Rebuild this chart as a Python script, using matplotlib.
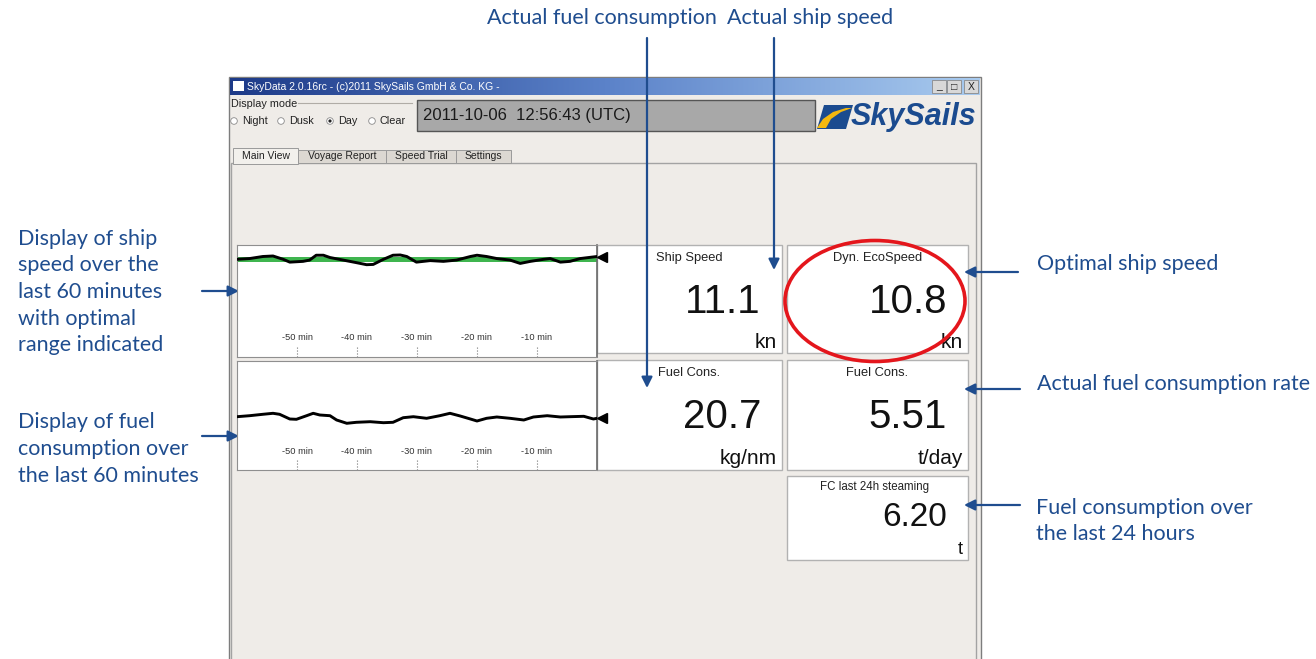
import numpy as np
import matplotlib.pyplot as plt
from matplotlib.patches import Rectangle, Ellipse, Polygon, Circle
from matplotlib.colors import LinearSegmentedColormap

W, H = 1316, 659

# ship speed over the last 60 minutes (kn)
speed_min = [-60, -57.9, -55.7, -54, -52.3, -51.2, -49, -47.9, -46.8, -45.6, -44.5,
             -42.3, -40.1, -38.4, -37.3, -35.6, -34, -32.8, -31.7, -30.1, -27.8,
             -25.6, -23.4, -21.1, -20, -18.4, -16.7, -14.5, -12.8, -11.1, -8.9,
             -7.8, -6.1, -4.5, -2.8, 0]
speed_kn = [11.02, 11.05, 11.13, 11.15, 11.02, 10.91, 10.94, 10.99, 11.18, 11.18, 11.09,
            10.99, 10.89, 10.81, 10.82, 11.02, 11.18, 11.19, 11.13, 10.91, 10.97,
            10.94, 10.99, 11.13, 11.18, 11.13, 11.05, 10.99, 10.86, 10.94, 11.02,
            11.05, 10.91, 10.94, 11.05, 11.13]
opt_low, opt_high = 10.9, 11.1

# fuel consumption over the last 60 minutes (kg/nm)
fuel_min = [-60, -57.9, -55.7, -54, -52.9, -51.2, -50.1, -48.4, -47.3, -46.2, -44.5,
            -43.4, -41.7, -40.1, -37.8, -35.6, -34, -32.3, -30.6, -28.4, -26.2,
            -24.5, -22.8, -21.1, -20, -18.4, -16.7, -14.5, -12.2, -10.6, -8.3,
            -6.1, -4.5, -2.2, -0.6, 0]
fuel_kgnm = [20.73, 20.83, 20.97, 21.07, 20.97, 20.50, 20.47, 20.83, 21.07, 20.90, 20.83,
             20.40, 20.07, 20.17, 20.23, 20.13, 20.17, 20.63, 20.73, 20.57, 20.83,
             21.07, 20.80, 20.50, 20.30, 20.57, 20.70, 20.57, 20.40, 20.70, 20.83,
             20.70, 20.73, 20.77, 20.50, 20.57]

tick_min = [-50, -40, -30, -20, -10]
tick_lbl = ["-50 min", "-40 min", "-30 min", "-20 min", "-10 min"]

box_titles = ["Ship Speed", "Dyn. EcoSpeed", "Fuel Cons.", "Fuel Cons.", "FC last 24h steaming"]
box_values = ["11.1", "10.8", "20.7", "5.51", "6.20"]
box_units = ["kn", "kn", "kg/nm", "t/day", "t"]

modes = ["Night", "Dusk", "Day", "Clear"]
mode_sel = "Day"
tabs = ["Main View", "Voyage Report", "Speed Trial", "Settings"]
stamp = "2011-10-06  12:56:43 (UTC)"
title = "SkyData 2.0.16rc - (c)2011 SkySails GmbH & Co. KG -"

BLUE = "#1f4d8f"
UI = ["Liberation Sans", "DejaVu Sans"]
ANN = ["Lato", "DejaVu Sans"]

fig = plt.figure(figsize=(W / 100, H / 100), dpi=100)
ax = fig.add_axes([0, 0, 1, 1])
ax.axis("off")

# window
ax.add_patch(Rectangle((229, 77), 752, 600, fc="#efece8", ec="#7d7d7d", lw=1))
grad = LinearSegmentedColormap.from_list("tb", ["#1d3a88", "#5b82c9", "#a9cbef"])
ax.imshow(np.linspace(0, 1, 256).reshape(1, -1), cmap=grad, aspect="auto",
          extent=(230, 980, 95, 78), zorder=1)
ax.add_patch(Rectangle((233, 81), 11, 10, fc="white", ec="none", zorder=2))
ax.text(247, 86.5, title, color="white", fontsize=7.5, family=UI, va="center", zorder=2)
for bx, s in zip([932, 947, 964], ["_", "□", "X"]):
    ax.add_patch(Rectangle((bx, 80), 14, 13, fc="#d8d8d8", ec="#8a8a8a", lw=0.6, zorder=2))
    ax.text(bx + 7, 86.5, s, fontsize=7.5, ha="center", va="center", family=UI,
            color="#222", zorder=3)

# display mode
ax.text(231, 104, "Display mode", fontsize=7.8, family=UI, va="center", color="#222")
ax.plot([298, 412], [103, 103], color="#b0aca6", lw=0.8)
rx = [234, 281, 330, 372]
for x, m in zip(rx, modes):
    ax.add_patch(Circle((x, 121), 3.3, fc="white", ec="#8a8a8a", lw=0.6))
    if m == mode_sel:
        ax.add_patch(Circle((x, 121), 1.6, fc="#222", ec="none"))
    ax.text(x + 8, 121, m, fontsize=7.8, family=UI, va="center", color="#222")

ax.add_patch(Rectangle((417, 100), 398, 31, fc="#a8a8a8", ec="#555", lw=1))
ax.text(423, 115.5, stamp, fontsize=12, family=UI, va="center", color="#1a1a1a")

# logo
ax.add_patch(Polygon([(824, 105), (853, 105), (846, 129), (817, 129)], fc="#1b4b8f", ec="none"))
ax.add_patch(Polygon([(817, 128), (823, 119), (833, 112), (846, 108), (852, 108),
                      (841, 112), (831, 119), (826, 128)], fc="#f4b80f", ec="none"))
ax.text(851, 117, "SkySails", fontsize=22, fontweight="bold", style="italic",
        family=UI, color="#1b4b8f", va="center")

# tab panel
ax.add_patch(Rectangle((231, 163), 745, 510, fc="#efece8", ec="#a3a3a3", lw=1))
tab_x = [233, 298, 386, 456, 511]
for i, t in enumerate(tabs):
    top = 148 if i == 0 else 150
    fc = "#f2f0ec" if i == 0 else "#dcd8d2"
    ax.add_patch(Rectangle((tab_x[i], top), tab_x[i + 1] - tab_x[i], 163 - top + (1 if i == 0 else 0),
                           fc=fc, ec="#9a9a9a", lw=0.7, zorder=2))
    ax.text((tab_x[i] + tab_x[i + 1]) / 2, 156, t, fontsize=7.5, family=UI, ha="center",
            va="center", color="#222", zorder=3)

# value boxes
boxes = [(597, 245, 782, 353), (787, 245, 968, 353), (597, 360, 782, 470),
         (787, 360, 968, 470), (787, 476, 968, 560)]
for i, (x0, y0, x1, y1) in enumerate(boxes):
    ax.add_patch(Rectangle((x0, y0), x1 - x0, y1 - y0, fc="white", ec="#b2b2b2", lw=1, zorder=2))
    small = i == 4
    ax.text((x0 + x1) / 2 - (3 if small else 0), y0 + (11 if small else 13), box_titles[i],
            fontsize=8.3 if small else 9.3, family=UI, ha="center", va="center",
            color="#222", zorder=3)
    ax.text(x1 - 21, y0 + (42 if small else 57), box_values[i], fontsize=24 if small else 29,
            family=UI, ha="right", va="center", color="#111", zorder=3)
    ax.text(x1 - 5, y1 - 11, box_units[i], fontsize=13 if small else 15, family=UI,
            ha="right", va="center", color="#111", zorder=3)


def px_axes(x0, y0, x1, y1):
    return fig.add_axes([x0 / W, 1 - y1 / H, (x1 - x0) / W, (y1 - y0) / H])


def trend(a, xs, ys, lim):
    a.set_xlim(-60, 0)
    a.set_ylim(*lim)
    a.plot(xs, ys, color="black", lw=2.1, solid_joinstyle="round", zorder=3)
    a.plot(0.9, ys[-1], marker="<", color="black", ms=7, clip_on=False, zorder=4)
    a.vlines(tick_min, 0, 0.1, transform=a.get_xaxis_transform(), color="#777",
             lw=0.8, linestyles=":")
    for m, lbl in zip(tick_min, tick_lbl):
        a.text(m, 0.17, lbl, transform=a.get_xaxis_transform(), fontsize=6.7,
               family=UI, ha="center", va="center", color="#333")
    a.set_xticks([])
    a.set_yticks([])
    for s in a.spines.values():
        s.set_color("#8f8f8f")
        s.set_linewidth(0.8)
    a.spines["right"].set_color("#6a6a6a")
    a.spines["right"].set_linewidth(1.2)


ax1 = px_axes(237, 245, 597, 357)
ax1.axhspan(opt_low, opt_high, color="#3fb54f", lw=0, zorder=1)
trend(ax1, speed_min, speed_kn, (7.2, 11.58))
ax2 = px_axes(237, 361, 597, 470)
trend(ax2, fuel_min, fuel_kgnm, (15.4, 26.3))

# highlight
ax.add_patch(Ellipse((875, 301), 180, 121, fill=False, ec="#e4161c", lw=2.6, zorder=5))

# callouts
arw = dict(arrowstyle="-|>", color=BLUE, lw=1.6, mutation_scale=16, shrinkA=0, shrinkB=0)
ax.text(487, 18, "Actual fuel consumption", fontsize=15.5, family=ANN, color=BLUE, va="center")
ax.text(727, 18, "Actual ship speed", fontsize=15.5, family=ANN, color=BLUE, va="center")
ax.annotate("", xy=(647, 388), xytext=(647, 38), arrowprops=arw, zorder=6)
ax.annotate("", xy=(774, 270), xytext=(774, 38), arrowprops=arw, zorder=6)

ax.text(18, 292, "Display of ship\nspeed over the\nlast 60 minutes\nwith optimal\nrange indicated",
        fontsize=15.5, family=ANN, color=BLUE, va="center", linespacing=1.42)
ax.text(18, 449, "Display of fuel\nconsumption over\nthe last 60 minutes",
        fontsize=15.5, family=ANN, color=BLUE, va="center", linespacing=1.42)
ax.annotate("", xy=(239, 291), xytext=(202, 291), arrowprops=arw, zorder=6)
ax.annotate("", xy=(239, 436), xytext=(202, 436), arrowprops=arw, zorder=6)

ax.text(1037, 264, "Optimal ship speed", fontsize=15.5, family=ANN, color=BLUE, va="center")
ax.text(1037, 384, "Actual fuel consumption rate", fontsize=15.5, family=ANN, color=BLUE, va="center")
ax.text(1036, 521, "Fuel consumption over\nthe last 24 hours", fontsize=15.5, family=ANN,
        color=BLUE, va="center", linespacing=1.42)
ax.annotate("", xy=(964, 272), xytext=(1018, 272), arrowprops=arw, zorder=6)
ax.annotate("", xy=(964, 389), xytext=(1020, 389), arrowprops=arw, zorder=6)
ax.annotate("", xy=(964, 505), xytext=(1020, 505), arrowprops=arw, zorder=6)

ax.set_xlim(0, W)
ax.set_ylim(H, 0)

fig.savefig("out.png", dpi=100)
